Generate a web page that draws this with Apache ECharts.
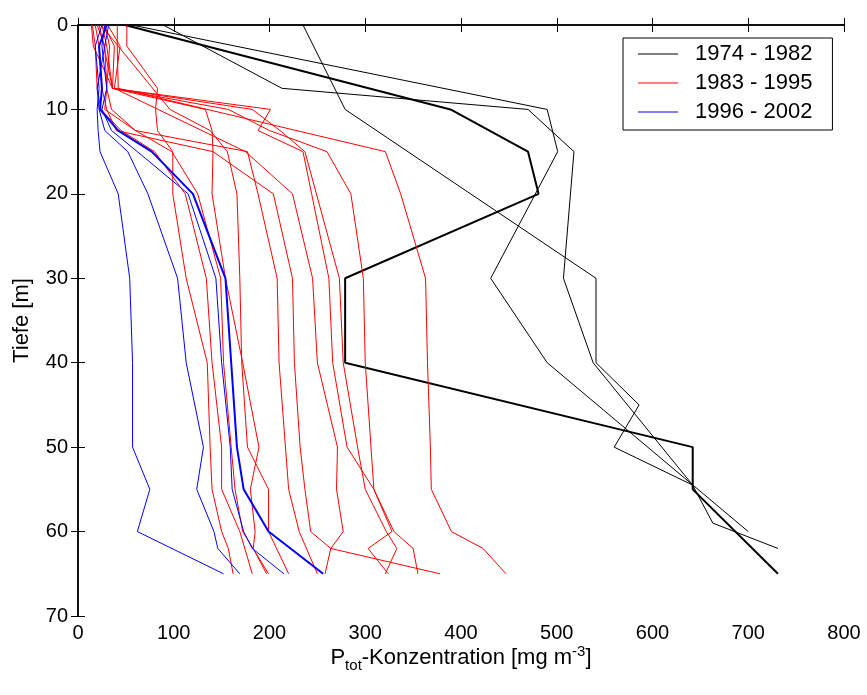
<!DOCTYPE html>
<html>
<head>
<meta charset="utf-8">
<script src="https://cdn.jsdelivr.net/npm/echarts@6/dist/echarts.min.js"></script>
<style>
html,body{margin:0;padding:0;background:#fff;}
#chart{width:867px;height:695px;}
</style>
</head>
<body>
<div id="chart"></div>
<script>
// Depth levels (m)
const DEPTHS = [0, 2.5, 7.5, 10, 12.5, 15, 20, 30, 40, 50, 55, 60, 62, 65];
const DEPTHS_BLACK = [0, 7.5, 10, 15, 20, 30, 40, 45, 50, 54.5, 55, 59, 60, 62, 65];

// 1974 - 1982 (black)
const k1 = [49, null, 389, 470, 481, 279, 279, null, 642, null, 642, null, null, null, 731];
const k2 = [56, null, 490, 501, null, 431, 490, null, null, null, null, null, 700, null, null];
const k3 = [89, 213, 470, 518, null, 507, 538, null, null, 642, null, 663, null, 731, null];
const k4 = [235, null, 279, null, null, 541, 541, 586, 560, 642, null, null, null, null, null];

// 1983 - 1995 (red)
const r1  = [51, 51, 83, 81, 83, 99, 99, 113, 135, 138, 140, 150, 157, 162];
const r2  = [15, 18, 20, 24, 45, 80, 112, 134, 140, 150, 150, 169, null, 182];
const r3  = [20, 28, 30, 35, 60, 98, 125, 149, 152, 160, 164, 172, null, 199];
const r4  = [14, 16, 36, 133, 140, 141, 140, 154, 172, 189, 180, 185, 183, 197];
const r5  = [24, null, null, 96, 138, 156, 166, 169, 171, 177, 199, 199, null, 220];
const r6  = [28, 33, 30, 28, 60, 177, 188, 208, 210, null, 220, 231, null, 250];
const r7  = [18, 22, 25, 30, 40, 141, 204, 224, 226, 232, 237, 243, 264, 258];
const r8  = [31, 44, 38, null, null, 175, 224, 245, 250, 271, 270, 277, 264, 378];
const r9  = [25, 30, 36, 201, 188, 235, 244, 262, 266, 281, 309, 330, 350, 355];
const r10 = [22, 27, 36, 182, 211, 237, 249, 273, 277, 292, 300, 322, 333, 321];
const r11 = [27, 38, 36, 157, 200, 260, 285, 298, 300, null, 309, 328, 303, 324];
const r12 = [41, 41, 42, null, null, 321, 337, 363, 365, 368, 369, 390, 423, 447];

// 1996 - 2002 (blue)
const b1 = [30, 22, 25, 23, 42, 77, 120, 154, 160, 166, 173, 199, 222, 256];
const b2 = [25, 18, 22, 20, 21, 23, 42, 54, 57, 57, 75, 62, null, 152];
const b3 = [32, 28, 20, 22, 28, 52, 73, 104, 113, 131, 124, 142, 146, 169];
const b4 = [28, 25, 30, 25, 35, 62, 115, 144, 150, 159, 161, 173, 182, 215];

const X_TICKS = [0, 100, 200, 300, 400, 500, 600, 700, 800];
const Y_TICKS = [0, 10, 20, 30, 40, 50, 60, 70];
const NAMES = ['1974 - 1982', '1983 - 1995', '1996 - 2002'];
const COLORS = ['#000000', '#ff0000', '#0000ff'];

const FONT = '"Liberation Sans", Arial, Helvetica, sans-serif';

function mk(name, depths, vals, color, width) {
  const data = [];
  for (let i = 0; i < depths.length; i++) {
    if (vals[i] !== null && vals[i] !== undefined) data.push([vals[i], depths[i]]);
  }
  return {
    type: 'line', name: name, data: data, symbol: 'none', showSymbol: false,
    lineStyle: { color: color, width: width }, itemStyle: { color: color },
    animation: false, silent: true, xAxisIndex: 0, yAxisIndex: 0
  };
}

const series = [];
[k2, k3, k4].forEach(v => series.push(mk(NAMES[0], DEPTHS_BLACK, v, COLORS[0], 1)));
series.push(mk(NAMES[0], DEPTHS_BLACK, k1, COLORS[0], 2));
[r1, r2, r3, r4, r5, r6, r7, r8, r9, r10, r11, r12].forEach(v => series.push(mk(NAMES[1], DEPTHS, v, COLORS[1], 1)));
[b2, b3, b4].forEach(v => series.push(mk(NAMES[2], DEPTHS, v, COLORS[2], 1)));
series.push(mk(NAMES[2], DEPTHS, b1, COLORS[2], 2));

const axisLineStyle = { show: true, lineStyle: { color: '#000', width: 1.5 } };
const tickStyle = { show: true, inside: true, length: 7, lineStyle: { color: '#000', width: 1 } };

const chart = echarts.init(document.getElementById('chart'), null, { renderer: 'canvas' });
chart.setOption({
  backgroundColor: '#fff',
  animation: false,
  grid: { left: 78, right: 23, top: 25, bottom: 79, containLabel: false },
  legend: {
    data: NAMES.map((n, i) => ({ name: n, icon: 'rect', itemStyle: { color: COLORS[i] } })),
    orient: 'vertical',
    left: 623, top: 38,
    backgroundColor: '#fff',
    borderColor: '#000', borderWidth: 1,
    padding: [5, 20, 7, 15],
    itemWidth: 40, itemHeight: 1.2, itemGap: 7,
    textStyle: { color: '#000', fontSize: 22, lineHeight: 22, fontFamily: FONT, padding: [0, 0, 0, 12] }
  },
  xAxis: [{
    type: 'value', position: 'bottom', min: X_TICKS[0], max: X_TICKS[X_TICKS.length - 1],
    interval: X_TICKS[1] - X_TICKS[0],
    axisLine: axisLineStyle, axisTick: tickStyle, splitLine: { show: false },
    axisLabel: { color: '#000', fontSize: 20, fontFamily: FONT, margin: 7 },
    name: '{a|P}{sub|tot}{a|-Konzentration [mg m}{sup|-3}{a|]}',
    nameLocation: 'middle', nameGap: 27, nameMoveOverlap: false,
    nameTextStyle: {
      rich: {
        a: { fontSize: 22, fontFamily: FONT, color: '#000', lineHeight: 30 },
        sub: { fontSize: 15, fontFamily: FONT, color: '#000', lineHeight: 30, padding: [16, 0, 0, 0] },
        sup: { fontSize: 15, fontFamily: FONT, color: '#000', lineHeight: 30, padding: [0, 0, 12, 0] }
      }
    }
  }, {
    type: 'value', position: 'top', min: X_TICKS[0], max: X_TICKS[X_TICKS.length - 1],
    interval: X_TICKS[1] - X_TICKS[0],
    axisLine: axisLineStyle, axisTick: tickStyle, splitLine: { show: false },
    axisLabel: { show: false }
  }],
  yAxis: [{
    type: 'value', position: 'left', inverse: true, min: Y_TICKS[0], max: Y_TICKS[Y_TICKS.length - 1],
    interval: Y_TICKS[1] - Y_TICKS[0],
    axisLine: axisLineStyle, axisTick: tickStyle, splitLine: { show: false },
    axisLabel: { color: '#000', fontSize: 20, fontFamily: FONT, margin: 10 },
    name: 'Tiefe [m]', nameLocation: 'middle', nameGap: 45, nameRotate: 90, nameMoveOverlap: false,
    nameTextStyle: { color: '#000', fontSize: 22, fontFamily: FONT }
  }, {
    type: 'value', position: 'right', inverse: true, min: Y_TICKS[0], max: Y_TICKS[Y_TICKS.length - 1],
    interval: Y_TICKS[1] - Y_TICKS[0],
    axisLine: axisLineStyle, axisTick: tickStyle, splitLine: { show: false },
    axisLabel: { show: false }
  }],
  series: series
});
</script>
</body>
</html>
